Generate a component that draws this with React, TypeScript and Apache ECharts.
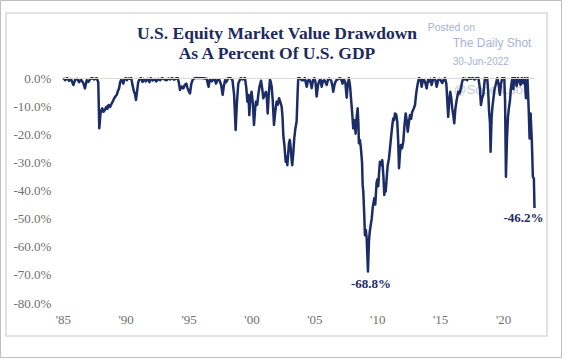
import React, { useEffect, useRef } from "react";
import * as echarts from "echarts";

const titleLines = ["U.S. Equity Market Value Drawdown", "As A Percent Of U.S. GDP"];
const watermark = ["Posted on", "The Daily Shot", "30-Jun-2022", "@SoberLook"];
const xTickYears = [1985, 1990, 1995, 2000, 2005, 2010, 2015, 2020];

const years = [
  1985.0, 1985.15, 1985.3, 1985.45, 1985.6, 1985.8, 1985.95, 1986.1, 1986.25, 1986.4, 1986.6, 1986.72, 1986.86,
  1987.0, 1987.15, 1987.3, 1987.45, 1987.65, 1987.78, 1987.86, 1987.95, 1988.02, 1988.1, 1988.2, 1988.3, 1988.42,
  1988.5, 1988.6, 1988.72, 1988.85, 1988.95, 1989.05, 1989.15, 1989.25, 1989.35, 1989.43, 1989.52, 1989.6, 1989.68,
  1989.77, 1989.85, 1989.95, 1990.05, 1990.15, 1990.3, 1990.4, 1990.48, 1990.6, 1990.7, 1990.78, 1990.88, 1990.96,
  1991.05, 1991.17, 1991.3, 1991.4, 1991.55, 1991.7, 1991.85, 1991.95, 1992.1, 1992.25, 1992.4, 1992.55, 1992.7,
  1992.85, 1993.0, 1993.2, 1993.35, 1993.5, 1993.65, 1993.8, 1993.95, 1994.1, 1994.2, 1994.28, 1994.4, 1994.54,
  1994.65, 1994.78, 1994.87, 1994.94, 1995.07, 1995.18, 1995.3, 1995.47, 1995.7, 1996.0, 1996.4, 1996.55, 1996.65,
  1996.8, 1996.92, 1997.05, 1997.14, 1997.28, 1997.4, 1997.55, 1997.67, 1997.76, 1997.86, 1997.95, 1998.12, 1998.3,
  1998.45, 1998.58, 1998.7, 1998.8, 1998.91, 1999.1, 1999.25, 1999.44, 1999.55, 1999.63, 1999.72, 1999.79, 1999.87,
  1999.97, 2000.07, 2000.16, 2000.25, 2000.32, 2000.42, 2000.5, 2000.6, 2000.72, 2000.82, 2000.9, 2001.0, 2001.11,
  2001.18, 2001.25, 2001.33, 2001.43, 2001.5, 2001.57, 2001.65, 2001.75, 2001.85, 2001.96, 2002.05, 2002.15, 2002.25,
  2002.36, 2002.43, 2002.49, 2002.58, 2002.68, 2002.75, 2002.81, 2002.88, 2002.94, 2003.01, 2003.08, 2003.15, 2003.2,
  2003.28, 2003.36, 2003.45, 2003.55, 2003.63, 2003.68, 2003.8, 2003.95, 2004.08, 2004.2, 2004.35, 2004.45, 2004.55,
  2004.65, 2004.75, 2004.85, 2004.95, 2005.05, 2005.14, 2005.25, 2005.35, 2005.45, 2005.54, 2005.65, 2005.75, 2005.85,
  2005.94, 2006.05, 2006.15, 2006.3, 2006.4, 2006.46, 2006.58, 2006.7, 2006.85, 2007.0, 2007.1, 2007.2, 2007.3,
  2007.42, 2007.53, 2007.6, 2007.7, 2007.8, 2007.87, 2007.96, 2008.05, 2008.15, 2008.24, 2008.32, 2008.4, 2008.46,
  2008.5, 2008.58, 2008.66, 2008.75, 2008.8, 2008.85, 2008.92, 2008.98, 2009.05, 2009.12, 2009.22, 2009.3, 2009.36,
  2009.45, 2009.52, 2009.6, 2009.72, 2009.8, 2009.91, 2009.98, 2010.04, 2010.1, 2010.17, 2010.27, 2010.36, 2010.45,
  2010.52, 2010.58, 2010.63, 2010.72, 2010.79, 2010.89, 2010.97, 2011.05, 2011.15, 2011.23, 2011.3, 2011.37, 2011.47,
  2011.55, 2011.62, 2011.69, 2011.76, 2011.84, 2011.93, 2012.03, 2012.12, 2012.22, 2012.3, 2012.38, 2012.47, 2012.56,
  2012.65, 2012.74, 2012.85, 2012.96, 2013.02, 2013.09, 2013.2, 2013.28, 2013.4, 2013.49, 2013.6, 2013.7, 2013.8,
  2013.89, 2014.0, 2014.1, 2014.2, 2014.28, 2014.4, 2014.5, 2014.6, 2014.68, 2014.8, 2014.9, 2015.0, 2015.13,
  2015.25, 2015.34, 2015.45, 2015.6, 2015.68, 2015.76, 2015.84, 2015.92, 2016.0, 2016.08, 2016.17, 2016.27, 2016.4,
  2016.5, 2016.61, 2016.7, 2016.8, 2016.9, 2017.0, 2017.1, 2017.25, 2017.4, 2017.55, 2017.7, 2017.85, 2018.0,
  2018.12, 2018.2, 2018.3, 2018.39, 2018.45, 2018.52, 2018.6, 2018.7, 2018.78, 2018.85, 2018.92, 2018.97, 2019.05,
  2019.12, 2019.18, 2019.28, 2019.37, 2019.45, 2019.5, 2019.6, 2019.71, 2019.8, 2019.9, 2020.0, 2020.06, 2020.12,
  2020.19, 2020.27, 2020.35, 2020.42, 2020.51, 2020.6, 2020.7, 2020.78, 2020.85, 2020.93, 2021.04, 2021.15, 2021.25,
  2021.35, 2021.45, 2021.57, 2021.68, 2021.78, 2021.9, 2022.0, 2022.07, 2022.15, 2022.25, 2022.33, 2022.41, 2022.46,
];

const drawdown = [
  0, -0.8, 0, -1.0, -0.3, -2.5, -0.5, -0.3, -1.5, -0.5, -1.9, -3.7, -0.8,
  -1.4, -0.3, 0, -0.5, 0, -1.5, -17.9, -13, -11.5, -10.8, -12, -11.4, -10.2,
  -11, -9.6, -10.3, -9.0, -8.2, -7.2, -6.5, -6.0, -4.5, -3.7, -1.5, -0.6, -1.0,
  -2.0, -0.5, 0, -0.8, -0.2, -0.3, 0, -2.0, -4.5, -5.8, -7.8, -4.2, -1.4,
  -0.5, 0, -1.4, -0.3, -1.2, -0.3, -1.5, 0, -0.9, -0.4, -1.2, -0.3, -0.8,
  0, -0.4, -0.8, -0.2, -0.5, 0, -0.6, -0.2, 0, -2.0, -4.3, -3.0, -3.7,
  -2.5, -2.0, -3.5, -4.3, -5.5, -2.0, -0.5, 0, 0, 0, -0.3, -3.1, -0.5,
  -1.2, -0.6, -0.5, -2.0, -0.5, -0.6, -2.5, -6.0, -3.0, -0.8, -1.5, 0, 0,
  -0.8, -6, -18.5, -9, -2.0, 0, -0.5, 0, -3.5, -8.4, -6, -13.2, -7,
  -4.9, -9, -16.7, -11, -8.4, -9.5, -6.0, -3.0, -1.0, -4, -7.2, -6, -4.9,
  -7, -12.6, -6, -0.6, -1.5, -3.3, -8, -16.7, -12, -8.4, -9.5, -7.2, -8.5,
  -10.2, -14, -20.3, -24, -29.8, -28, -31.0, -27, -23.2, -22, -25, -29, -31,
  -27, -21.5, -18, -15.5, -5, 0, 0, -0.8, -0.8, 0, -3.1, -1.0, -0.5,
  -1.5, -3.6, -0.8, 0, -1.5, -6.6, -2.5, -1.0, -0.5, -3.1, -1.0, -0.8, -1.5,
  -2.5, -0.5, -0.2, -1.0, -3, -4.9, -2, -0.8, -0.4, 0, -0.6, -2.0, -0.5,
  -1.5, -7.0, -3, 0, -3, -7.1, -12, -17.9, -15, -19.8, -14, -10.8, -16,
  -23.2, -22, -25, -30, -38, -40.4, -48, -55.9, -54, -57, -68.8, -58, -54.7,
  -52, -50, -46, -42.8, -45, -37, -36, -38.5, -34, -29.8, -31, -29.2, -35,
  -41.6, -38, -40.4, -35, -31, -28.6, -25, -21.5, -17, -14.4, -15, -12.6, -13,
  -15.5, -22, -32.1, -27, -23.8, -25, -22.6, -17, -12.6, -15, -19.1, -16, -13.2,
  -14.5, -12, -11, -9.6, -7, -4.3, -1.5, 0, -0.5, -3.1, -0.5, -0.8, -2,
  -3.7, -0.5, -1.2, -0.3, -2.5, -0.5, 0, -1.0, -3.1, -0.8, -0.3, -0.8, -1.8,
  -0.5, 0, -2, -13.8, -8, -4.9, -7, -10.8, -13, -16.1, -11, -7.9, -4.9,
  -5.5, -3.7, -1.5, 0, -0.5, -0.3, -0.8, 0, -0.3, 0, -0.5, 0, 0,
  -3.7, -9.6, -7, -6.0, -3, 0, -0.5, 0, -4.9, -12, -16, -26.2, -14,
  -10, -7.9, -4, -2.5, -1, 0, -2, -6.0, -2, 0, -0.3, 0, -8,
  -35.1, -22, -14, -11, -8, -3, 0, -4, 0, 0, -2.9, 0, -0.5,
  -2.5, 0, -1.9, 0, -7.2, 0, -11.4, -21.5, -12.6, -22.5, -35.1, -35.7, -46.2,
];

const NAVY = "#1b2c66";
const AXIS_GRAY = "#707070";
const SERIF = '"Liberation Serif", "DejaVu Serif", serif';
const SANS = '"Liberation Sans", Arial, sans-serif';
const WM = "#a9b2d2";

export default function App() {
  const ref = useRef<HTMLDivElement>(null);
  useEffect(() => {
    const chart = echarts.init(ref.current!, null, { renderer: "svg" });
    const data = years.map((y, i) => [y, drawdown[i]]);
    let minI = 0;
    drawdown.forEach((v, i) => {
      if (v < drawdown[minI]) minI = i;
    });
    const lastI = drawdown.length - 1;
    const labelStyle = {
      show: true,
      position: "inside",
      fontFamily: SERIF,
      fontWeight: "bold",
      fontSize: 13,
      color: NAVY,
      formatter: (p: any) => Number(p.value).toFixed(1) + "%",
    };
    chart.setOption({
      animation: false,
      backgroundColor: "#ffffff",
      grid: { left: 63.3, right: 29, top: 78, bottom: 56 },
      xAxis: {
        type: "value",
        min: xTickYears[0],
        max: 2022.5,
        interval: 5,
        axisLine: { show: false },
        axisTick: { show: false },
        splitLine: { show: false },
        axisLabel: {
          showMaxLabel: false,
          color: AXIS_GRAY,
          fontFamily: SERIF,
          fontSize: 13,
          margin: 10,
          formatter: (v: number) => (xTickYears.indexOf(v) >= 0 ? "'" + String(v).slice(2) : ""),
        },
      },
      yAxis: {
        type: "value",
        min: -80,
        max: 0,
        interval: 10,
        axisLine: { show: false },
        axisTick: { show: false },
        splitLine: { show: false },
        axisLabel: {
          color: AXIS_GRAY,
          fontFamily: SERIF,
          fontSize: 13,
          margin: 12,
          formatter: (v: number) => (v === 0 ? "0.0" : v.toFixed(1)) + "%",
        },
      },
      series: [
        {
          type: "line",
          data: [[years[0], 0]],
          showSymbol: false,
          silent: true,
          lineStyle: { opacity: 0 },
          z: 1,
          markLine: {
            silent: true,
            symbol: "none",
            label: { show: false },
            lineStyle: { color: "#d9d9d9", type: "solid", width: 1 },
            data: [{ yAxis: 0 }],
          },
        },
        {
          type: "line",
          data,
          showSymbol: false,
          silent: true,
          z: 3,
          lineStyle: { color: NAVY, width: 2.5, join: "round" },
          markPoint: {
            symbol: "circle",
            symbolSize: 1,
            itemStyle: { color: "rgba(0,0,0,0)" },
            data: [
              { coord: [years[minI], drawdown[minI]], value: drawdown[minI], label: { ...labelStyle, offset: [3, 12] } },
              { coord: [years[lastI], drawdown[lastI]], value: drawdown[lastI], label: { ...labelStyle, offset: [-11, 10] } },
            ],
          },
        },
      ],
      graphic: [
        {
          type: "rect",
          z: -10,
          shape: { x: 0.5, y: 0.5, width: 561, height: 357 },
          style: { fill: "none", stroke: "#bfbfbf", lineWidth: 1 },
        },
        {
          type: "rect",
          z: -10,
          shape: { x: 6, y: 13, width: 541, height: 323 },
          style: { fill: "none", stroke: "#d9d9d9", lineWidth: 1.5 },
        },
        {
          type: "text",
          x: 277,
          y: 33,
          style: { text: titleLines[0], font: `bold 17.5px ${SERIF}`, fill: "#1c2a5e", textAlign: "center", textVerticalAlign: "middle" },
        },
        {
          type: "text",
          x: 277,
          y: 52.7,
          style: { text: titleLines[1], font: `bold 17.5px ${SERIF}`, fill: "#1c2a5e", textAlign: "center", textVerticalAlign: "middle" },
        },
        {
          type: "text",
          x: 427.7,
          y: 26.7,
          style: { text: watermark[0], font: `10.5px ${SANS}`, fill: WM, textAlign: "left", textVerticalAlign: "middle" },
        },
        {
          type: "text",
          x: 452.7,
          y: 42.7,
          style: { text: watermark[1], font: `12px ${SANS}`, fill: WM, textAlign: "left", textVerticalAlign: "middle" },
        },
        {
          type: "text",
          x: 452.7,
          y: 61,
          style: { text: watermark[2], font: `10px ${SANS}`, fill: WM, textAlign: "left", textVerticalAlign: "middle" },
        },
        {
          type: "text",
          x: 453.5,
          y: 89.5,
          z: -5,
          style: { text: watermark[3], font: `13px ${SANS}`, fill: "#c4c9d8", textAlign: "left", textVerticalAlign: "middle" },
        },
      ],
    });
    return () => chart.dispose();
  }, []);
  return <div ref={ref} style={{ position: "absolute", left: 0, top: 0, width: 564, height: 359 }} />;
}
